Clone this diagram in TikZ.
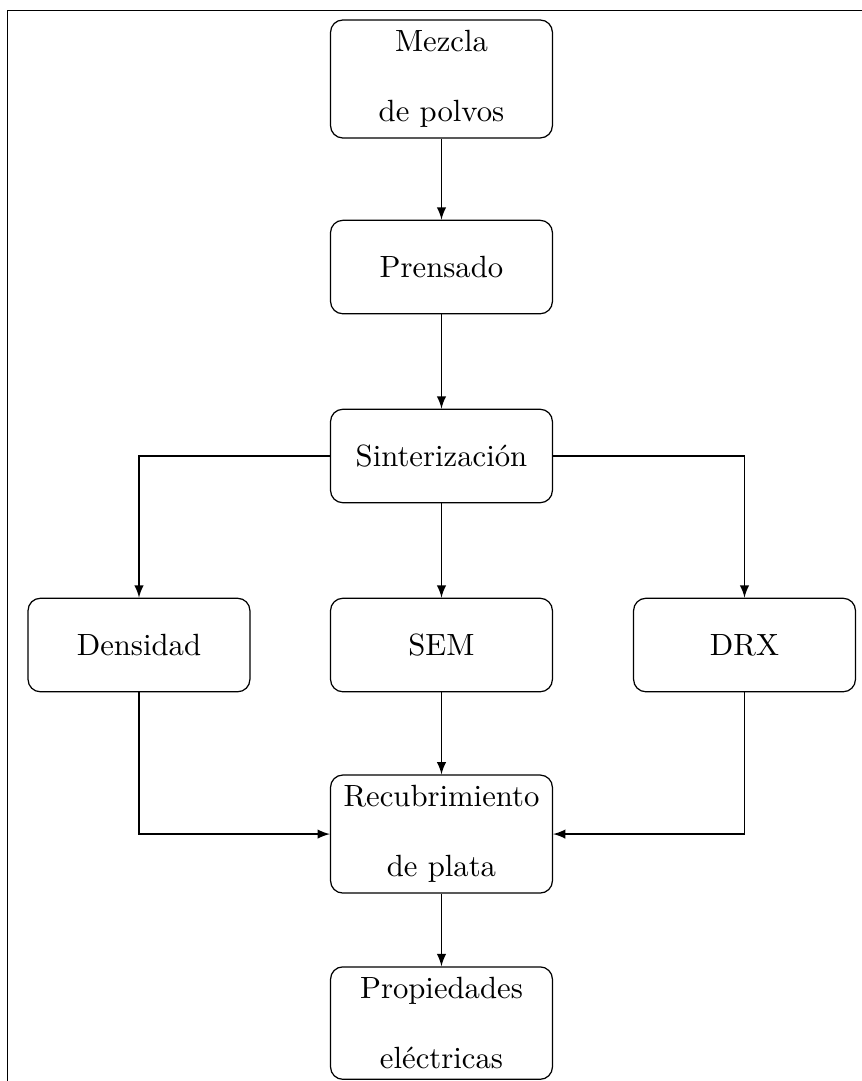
\documentclass[tikz,border=0pt]{standalone}
\begin{document}
\begin{tikzpicture}[>=latex,
        etapa/.style={draw, rounded corners, minimum width=2.54cm, minimum height=1.07cm, align=center}]
            \useasboundingbox (0,0) rectangle (9.868,-12.375);
            \draw (0.09,-12.375) -- (0.09,-0.12) -- (9.868,-0.12);
            \node[etapa] (mezcla)   at (5.054,-0.904)  {Mezcla\\[10.9pt]de polvos};
            \node[etapa] (prensado) at (5.054,-3.057)  {Prensado};
            \node[etapa] (sinter)   at (5.054,-5.220)  {Sinterización};
            \node[etapa] (densidad) at (1.591,-7.384)  {Densidad};
            \node[etapa] (sem)      at (5.054,-7.384)  {SEM};
            \node[etapa] (drx)      at (8.523,-7.384)  {DRX};
            \node[etapa] (recub)    at (5.054,-9.548)  {Recubrimiento\\[10.9pt]de plata};
            \node[etapa] (prop)     at (5.054,-11.712) {Propiedades\\[10.9pt]eléctricas};
            \draw [->] (mezcla)   -- (prensado);
            \draw [->] (prensado) -- (sinter);
            \draw [->] (sinter)   -| (densidad);
            \draw [->] (sinter)   -- (sem);
            \draw [->] (sinter)   -| (drx);
            \draw [->] (densidad) |- (recub);
            \draw [->] (sem)      -- (recub);
            \draw [->] (drx)      |- (recub);
            \draw [->] (recub)    -- (prop);
        \end{tikzpicture}
\end{document}
